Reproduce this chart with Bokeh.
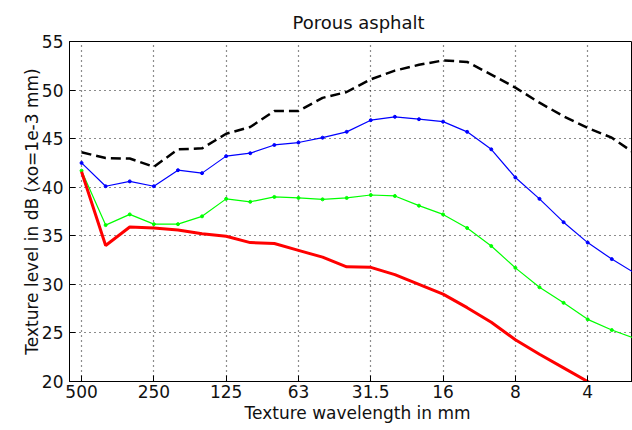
from bokeh.plotting import figure
from bokeh.models import Range1d, FixedTicker, Title, ColumnDataSource
from bokeh.embed import file_html
from bokeh.resources import INLINE

# one-third octave band texture wavelengths (mm)
bands = ["500", "400", "315", "250", "200", "160", "125", "100", "80", "63", "50", "40",
         "31.5", "25", "20", "16", "12.5", "10", "8", "6.3", "5", "4", "3.15", "2.5"]
tick_labels = ["500", "250", "125", "63", "31.5", "16", "8", "4"]

black_dashed = [43.6, 43.0, 42.95, 42.1, 43.9, 44.0, 45.5, 46.2, 47.85, 47.85, 49.2, 49.8,
                51.1, 52.0, 52.6, 53.05, 52.9, 51.6, 50.25, 48.7, 47.3, 46.1, 45.1, 43.4]
blue = [42.5, 40.1, 40.6, 40.1, 41.75, 41.45, 43.2, 43.5, 44.35, 44.6, 45.1, 45.7,
        46.9, 47.25, 47.0, 46.75, 45.7, 43.9, 41.0, 38.8, 36.4, 34.3, 32.6, 31.1]
green = [41.7, 36.1, 37.2, 36.2, 36.2, 37.0, 38.8, 38.5, 39.0, 38.9, 38.75, 38.9,
         39.2, 39.1, 38.1, 37.2, 35.8, 33.95, 31.7, 29.7, 28.1, 26.4, 25.3, 24.4]
red = [41.6, 34.0, 35.9, 35.8, 35.6, 35.2, 34.95, 34.3, 34.2, 33.5, 32.8, 31.8,
       31.75, 31.0, 30.0, 29.0, 27.6, 26.1, 24.3, 22.8, 21.4, 20.0, 18.6, 17.2]

idx = list(range(len(bands)))
src = ColumnDataSource(dict(x=idx, band=bands, black=black_dashed, blue=blue, green=green, red=red))

FONT = "DejaVu Sans"

p = figure(width=632, height=430, output_backend="svg", toolbar_location=None,
           x_range=Range1d(-0.5, 22.86), y_range=Range1d(20, 55),
           min_border_left=69, min_border_right=0, min_border_top=41, min_border_bottom=49,
           background_fill_color="white", border_fill_color="white")

p.title = Title(text="Porous asphalt", align="left", offset=223,
                text_font=FONT, text_font_size="18px", text_font_style="normal",
                text_color="#111111", standoff=18)

p.add_layout(Title(text="Texture wavelength in mm", align="left", offset=175,
                   text_font=FONT, text_font_size="17px", text_font_style="normal",
                   text_color="#111111", standoff=0), "below")

p.outline_line_color = "black"
p.outline_line_width = 1

# axes
tick_pos = [bands.index(t) for t in tick_labels]
p.xaxis.ticker = FixedTicker(ticks=tick_pos)
p.xaxis.major_label_overrides = {pos: lab for pos, lab in zip(tick_pos, tick_labels)}
p.yaxis.ticker = FixedTicker(ticks=[20, 25, 30, 35, 40, 45, 50, 55])
p.yaxis.axis_label = "Texture level in dB (xo=1e-3 mm)"

for ax in (p.xaxis[0], p.yaxis[0]):
    ax.axis_line_color = "black"
    ax.major_tick_line_color = "black"
    ax.major_tick_in = 6
    ax.major_tick_out = 0
    ax.minor_tick_line_color = None
    ax.major_label_text_font = FONT
    ax.major_label_text_font_size = "17px"
    ax.major_label_text_color = "#111111"
    ax.axis_label_text_font = FONT
    ax.axis_label_text_font_size = "17px"
    ax.axis_label_text_font_style = "normal"
    ax.axis_label_text_color = "#111111"
p.xaxis.major_label_standoff = 3
p.yaxis.major_label_standoff = 6
p.yaxis.axis_label_standoff = -3

# dotted grid
for g in (p.xgrid[0], p.ygrid[0]):
    g.grid_line_color = "black"
    g.grid_line_dash = "1 4"
    g.grid_line_width = 1.2
    g.grid_line_alpha = 0.9
p.xgrid.ticker = FixedTicker(ticks=tick_pos)
p.ygrid.ticker = FixedTicker(ticks=[20, 25, 30, 35, 40, 45, 50, 55])

# series
p.line("x", "green", source=src, line_color="#00ff00", line_width=1.2)
p.scatter("x", "green", source=src, marker="circle", size=3, color="#00ff00")
p.line("x", "blue", source=src, line_color="#0000ff", line_width=1.2)
p.scatter("x", "blue", source=src, marker="circle", size=3, color="#0000ff")
p.line("x", "black", source=src, line_color="black", line_width=2.5, line_dash="10 5")
p.line("x", "red", source=src, line_color="#ff0000", line_width=3)

open("out.html", "w").write(file_html(p, INLINE))
